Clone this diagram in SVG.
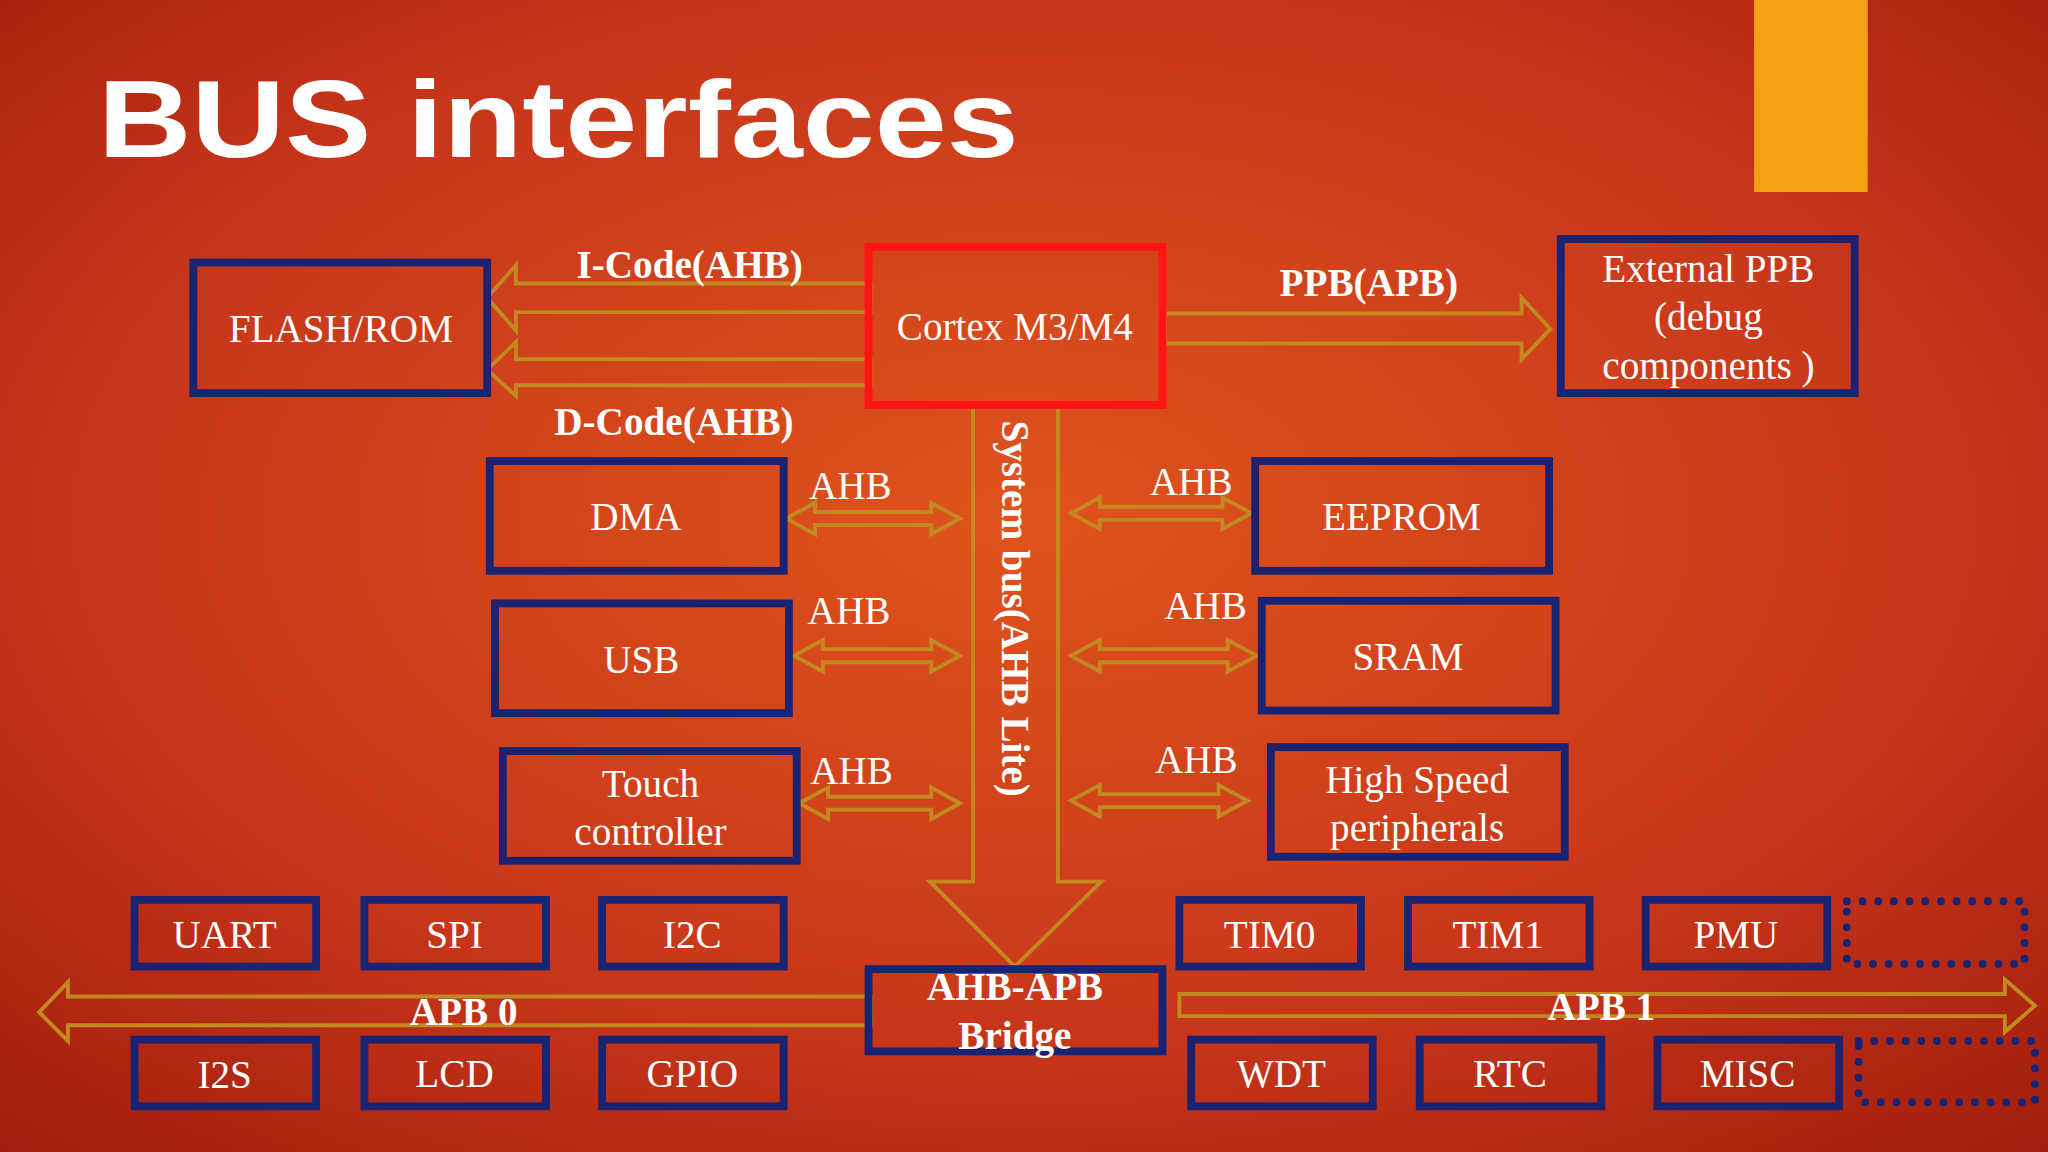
<svg xmlns="http://www.w3.org/2000/svg" width="2048" height="1152" viewBox="0 0 2048 1152">
<defs>
<radialGradient id="bg" cx="0.5" cy="0.45" r="0.75">
<stop offset="0" stop-color="#e0531c"/>
<stop offset="0.6" stop-color="#c8361a"/>
<stop offset="1" stop-color="#a01c0c"/>
</radialGradient>
<style>
.box{fill:none;stroke:#1a2372;stroke-width:6}
.cpu{fill:none;stroke:#ff1414;stroke-width:6}
.arr{fill:none;stroke:#c2891e;stroke-width:3;stroke-linejoin:miter}
.dot{fill:none;stroke:#1a2372;stroke-width:6;stroke-dasharray:0 12;stroke-linecap:round}
.t{font-family:"Liberation Serif",serif;font-size:30px;fill:#fff;text-anchor:middle}
.b{font-weight:bold}
</style>
</defs>
<rect width="2048" height="1152" fill="url(#bg)"/>
<g transform="scale(1.30612)">
<rect x="1343" y="0" width="87" height="147" fill="#f5a011"/>
<text x="75" y="120" font-family="Liberation Sans,Arial,sans-serif" font-weight="bold" font-size="84" fill="#fff" textLength="705" lengthAdjust="spacingAndGlyphs">BUS interfaces</text>

<g id="connectors">
<path class="arr" d="M667,217 H395 V203 L373,228 L395,253 V239 H667 Z"/>
<path class="arr" d="M667,275 H395 V262 L373,283 L395,303 V295 H667 Z"/>
<path class="arr" d="M892,240 H1165 V228 L1187,252 L1165,275 V263 H892 Z"/>
<path class="arr" d="M745,310 H810 V675 H843 L777,740 L712,675 H745 Z"/>
<path class="arr" d="M602,397 L624,385 V392 H713 V385 L735,397 L713,409 V402 H624 V409 Z"/>
<path class="arr" d="M820,393 L842,381 V388 H936 V381 L958,393 L936,405 V398 H842 V405 Z"/>
<path class="arr" d="M608,502 L630,490 V497 H713 V490 L735,502 L713,514 V507 H630 V514 Z"/>
<path class="arr" d="M820,502 L842,490 V497 H940 V490 L962,502 L940,514 V507 H842 V514 Z"/>
<path class="arr" d="M612,615 L634,603 V610 H713 V603 L735,615 L713,627 V620 H634 V627 Z"/>
<path class="arr" d="M820,613 L842,601 V608 H933 V601 L955,613 L933,625 V618 H842 V625 Z"/>
<path class="arr" d="M667,763 H52 V752 L30,775 L52,797 V785 H667 Z"/>
<path class="arr" d="M903,761 H1535 V750 L1558,770 L1535,790 V778 H903 Z"/>
</g>

<g id="labels">
<text class="t b" x="528" y="213">I-Code(AHB)</text>
<text class="t b" x="516" y="333">D-Code(AHB)</text>
<text class="t b" x="1048" y="227">PPB(APB)</text>
<text class="t" x="651" y="382">AHB</text>
<text class="t" x="650" y="478">AHB</text>
<text class="t" x="652" y="600">AHB</text>
<text class="t" x="912" y="379">AHB</text>
<text class="t" x="923" y="474">AHB</text>
<text class="t" x="916" y="592">AHB</text>
<text class="t b" x="355" y="785">APB 0</text>
<text class="t b" x="1226" y="781">APB 1</text>
<text class="t b" transform="translate(767,466) rotate(90)" x="0" y="0" font-size="27">System bus(AHB Lite)</text>
</g>

<g id="flash"><rect class="box" x="148" y="201" width="225" height="100"/><text class="t" x="261" y="262">FLASH/ROM</text></g>
<g id="cortex"><rect class="cpu" x="665" y="189" width="225" height="121"/><text class="t" x="777" y="260">Cortex M3/M4</text></g>
<g id="ppb"><rect class="box" x="1195" y="183" width="225" height="118"/><text class="t" x="1308" y="216">External PPB</text><text class="t" x="1308" y="253">(debug</text><text class="t" x="1308" y="290">components )</text></g>
<g id="dma"><rect class="box" x="375" y="353" width="225" height="84"/><text class="t" x="487" y="406">DMA</text></g>
<g id="usb"><rect class="box" x="379" y="462" width="225" height="84"/><text class="t" x="491" y="515">USB</text></g>
<g id="touch"><rect class="box" x="385" y="575" width="225" height="84"/><text class="t" x="498" y="610">Touch</text><text class="t" x="498" y="647">controller</text></g>
<g id="eeprom"><rect class="box" x="961" y="353" width="225" height="84"/><text class="t" x="1073" y="406">EEPROM</text></g>
<g id="sram"><rect class="box" x="966" y="460" width="225" height="84"/><text class="t" x="1078" y="513">SRAM</text></g>
<g id="hsp"><rect class="box" x="973" y="572" width="225" height="84"/><text class="t" x="1085" y="607">High Speed</text><text class="t" x="1085" y="644">peripherals</text></g>
<g id="bridge"><rect class="box" x="665" y="742" width="225" height="63"/><text class="t b" x="777" y="766">AHB-APB</text><text class="t b" x="777" y="803">Bridge</text></g>

<g id="uart"><rect class="box" x="103" y="689" width="139" height="51"/><text class="t" x="172" y="726">UART</text></g>
<g id="spi"><rect class="box" x="279" y="689" width="139" height="51"/><text class="t" x="348" y="726">SPI</text></g>
<g id="i2c"><rect class="box" x="461" y="689" width="139" height="51"/><text class="t" x="530" y="726">I2C</text></g>
<g id="tim0"><rect class="box" x="903" y="689" width="139" height="51"/><text class="t" x="972" y="726">TIM0</text></g>
<g id="tim1"><rect class="box" x="1078" y="689" width="139" height="51"/><text class="t" x="1147" y="726">TIM1</text></g>
<g id="pmu"><rect class="box" x="1260" y="689" width="139" height="51"/><text class="t" x="1329" y="726">PMU</text></g>
<g id="i2s"><rect class="box" x="103" y="796" width="139" height="51"/><text class="t" x="172" y="833">I2S</text></g>
<g id="lcd"><rect class="box" x="279" y="796" width="139" height="51"/><text class="t" x="348" y="832">LCD</text></g>
<g id="gpio"><rect class="box" x="461" y="796" width="139" height="51"/><text class="t" x="530" y="832">GPIO</text></g>
<g id="wdt"><rect class="box" x="912" y="796" width="139" height="51"/><text class="t" x="981" y="832">WDT</text></g>
<g id="rtc"><rect class="box" x="1087" y="796" width="139" height="51"/><text class="t" x="1156" y="832">RTC</text></g>
<g id="misc"><rect class="box" x="1269" y="796" width="139" height="51"/><text class="t" x="1338" y="832">MISC</text></g>
<g id="dots1"><rect class="dot" x="1414" y="690" width="136" height="48"/></g>
<g id="dots2"><rect class="dot" x="1423" y="797" width="135" height="47"/></g>
</g>
</svg>
